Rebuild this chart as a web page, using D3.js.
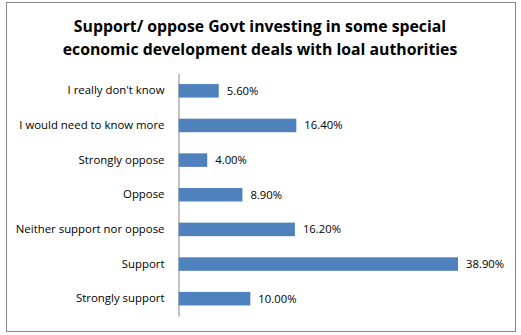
<!DOCTYPE html>
<html>
<head>
<meta charset="utf-8">
<script src="https://cdn.jsdelivr.net/npm/d3@7"></script>
<style>
  html, body { margin: 0; padding: 0; background: #fff; }
  svg { display: block; font-family: "Open Sans", Lato, sans-serif; }
</style>
</head>
<body>
<svg id="chart" width="521" height="335"></svg>
<script>
// Survey responses, listed top to bottom as shown
const categories = [
  "I really don't know",
  "I would need to know more",
  "Strongly oppose",
  "Oppose",
  "Neither support nor oppose",
  "Support",
  "Strongly support"
];
const values = [5.6, 16.4, 4.0, 8.9, 16.2, 38.9, 10.0];
const titleLines = [
  "Support/ oppose Govt investing in some special",
  "economic development deals with loal authorities"
];

const svg = d3.select("#chart");
const FONT = "'Open Sans', Lato, sans-serif";

// chart border
svg.append("rect")
  .attr("x", 6.5).attr("y", 2.5)
  .attr("width", 509).attr("height", 329)
  .attr("fill", "#fff").attr("stroke", "#868686").attr("stroke-width", 1);

// title
svg.append("g").selectAll("text")
  .data(titleLines).join("text")
  .attr("x", 260)
  .attr("y", (d, i) => 32 + i * 23)
  .attr("text-anchor", "middle")
  .attr("font-size", 15.8)
  .attr("font-weight", "bold")
  .attr("fill", "#000")
  .text(d => d);

const x0 = 178.5;
const x = d3.scaleLinear().domain([0, 38.9]).range([x0, 458]);
const y = d3.scaleBand().domain(categories).range([73.5, 316]).paddingInner(0.61).paddingOuter(0.305);

// bars
svg.append("g").selectAll("rect")
  .data(values).join("rect")
  .attr("x", x(0))
  .attr("y", (d, i) => y(categories[i]))
  .attr("width", d => x(d) - x(0))
  .attr("height", y.bandwidth())
  .attr("fill", "#4F81BD");

// value labels
svg.append("g").selectAll("text")
  .data(values).join("text")
  .attr("x", d => x(d) + 8)
  .attr("y", (d, i) => y(categories[i]) + y.bandwidth() / 2)
  .attr("dy", "0.35em")
  .attr("font-size", 11.3)
  .attr("fill", "#000")
  .text(d => d.toFixed(2) + "%");

// category axis
const axis = d3.axisLeft(y).tickSize(0).tickPadding(14);
const gAxis = svg.append("g").attr("transform", `translate(${x0},0)`).call(axis);
gAxis.select(".domain").attr("stroke", "#868686");
gAxis.selectAll("text").attr("font-size", 11.4).attr("font-family", FONT).attr("fill", "#000");
</script>
</body>
</html>
